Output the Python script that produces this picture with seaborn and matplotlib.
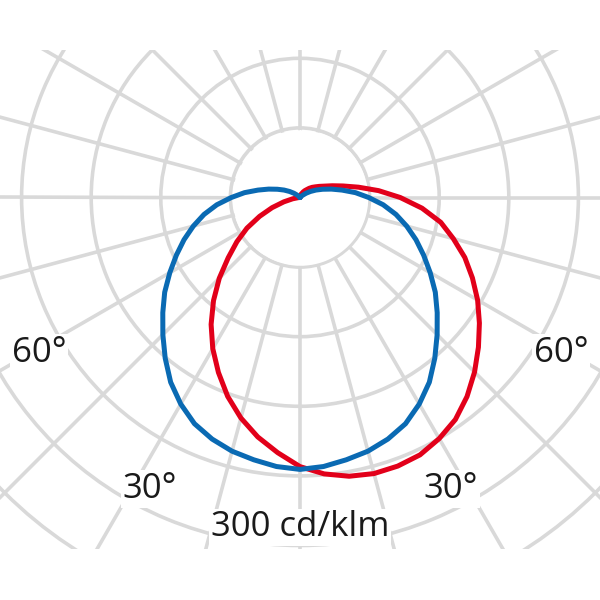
import numpy as np
import pandas as pd
import matplotlib
matplotlib.use('Agg')
import matplotlib.pyplot as plt
from matplotlib.patches import Rectangle
import seaborn as sns

# luminous intensity in cd/klm, gamma measured from nadir (positive = right)
gamma_blue = [0, 5, 10, 15, 20, 25, 30, 35, 40, 45, 50, 55, 60, 65, 70,
              75, 80, 85, 90, 95, 100, 105, 110, 115, 120, 125, 130, 135, 140]
cd_blue = [293, 291, 287, 283, 277, 269, 257, 243, 226, 209, 193, 178, 162, 147, 133,
           119, 105, 90, 74, 60, 46, 35, 26, 19, 13, 8, 4, 2, 0]

gamma_red = [-90, -85, -80, -75, -70, -65, -60, -55, -50, -45, -40, -35, -30, -25, -20,
             -15, -10, -5, 0, 5, 10, 15, 20, 25, 30, 35, 40, 45, 50,
             55, 60, 65, 70, 75, 80, 85, 90, 95, 100, 105, 110, 115, 120,
             125, 130, 135, 140, 145, 150, 155, 160, 165, 170, 175, 180]
cd_red = [0, 2, 8, 18, 32, 48, 66, 83, 101, 123, 145, 167, 188, 208, 228,
          246, 262, 276, 290, 299, 305, 308, 308, 306, 300, 292, 280, 266, 251,
          236, 221, 205, 189, 171, 154, 132, 108, 85, 64, 48, 37, 29, 24,
          20, 17, 14, 11, 9, 7, 5, 4, 3, 2, 1, 0]

ring_values = [75, 150, 225, 300, 375, 450, 525]
label_texts = ['60°', '60°', '30°', '30°', '300 cd/klm']
label_px = [(39, 362), (561, 361.5), (150, 498), (451, 498), (300, 536.5)]

sns.set_style('white')
plt.rcParams['font.family'] = ['Open Sans', 'DejaVu Sans']

# blue plane is symmetric: mirror the measured half
g_b = [-g for g in gamma_blue[::-1]] + gamma_blue[1:]
c_b = cd_blue[::-1] + cd_blue[1:]

df = pd.concat([
    pd.DataFrame({'theta': np.deg2rad(gamma_red), 'cd': cd_red, 'plane': 'C90-C270'}),
    pd.DataFrame({'theta': np.deg2rad(g_b), 'cd': c_b, 'plane': 'C0-C180'}),
])

fig = plt.figure(figsize=(6, 6), dpi=100)

cx, cy = 300, 197.5
px_per_cd = 69.6 / 75
r_max = ring_values[-1]
half = r_max * px_per_cd / 600
ax = fig.add_axes([cx / 600 - half, 1 - cy / 600 - half, 2 * half, 2 * half], projection='polar')

ax.set_theta_zero_location('S')
ax.set_ylim(0, r_max)
ax.set_xticks(np.deg2rad(np.arange(0, 360, 15)))
ax.set_xticklabels([])
ax.set_yticks(ring_values)
ax.set_yticklabels([])
ax.grid(True, color='#d9d9d9', linewidth=2.6)
ax.spines['polar'].set_visible(False)
ax.set_axisbelow(True)

# spokes start at the first ring
t = np.linspace(0, 2 * np.pi, 361)
ax.fill_between(t, 0, 73, color='white', linewidth=0, zorder=1)

sns.lineplot(data=df, x='theta', y='cd', hue='plane', hue_order=['C90-C270', 'C0-C180'],
             palette={'C0-C180': '#0a6ab3', 'C90-C270': '#e2001a'},
             sort=False, estimator=None, legend=False, linewidth=3.6, ax=ax, zorder=3)
ax.set_xlabel('')
ax.set_ylabel('')

# diagram is cut off at top and bottom
fig.add_artist(Rectangle((0, 1 - 50 / 600), 1, 50 / 600, transform=fig.transFigure,
                         facecolor='white', edgecolor='none', zorder=5))
fig.add_artist(Rectangle((0, 0), 1, 51 / 600, transform=fig.transFigure,
                         facecolor='white', edgecolor='none', zorder=5))

for txt, (x, y) in zip(label_texts, label_px):
    fig.text(x / 600, 1 - y / 600, txt, ha='center', va='baseline', fontsize=25,
             color='#1a1a1a', zorder=6,
             bbox=dict(boxstyle='square,pad=0.05', facecolor='white', edgecolor='none'))

fig.savefig('out.png', dpi=100, facecolor='white')
